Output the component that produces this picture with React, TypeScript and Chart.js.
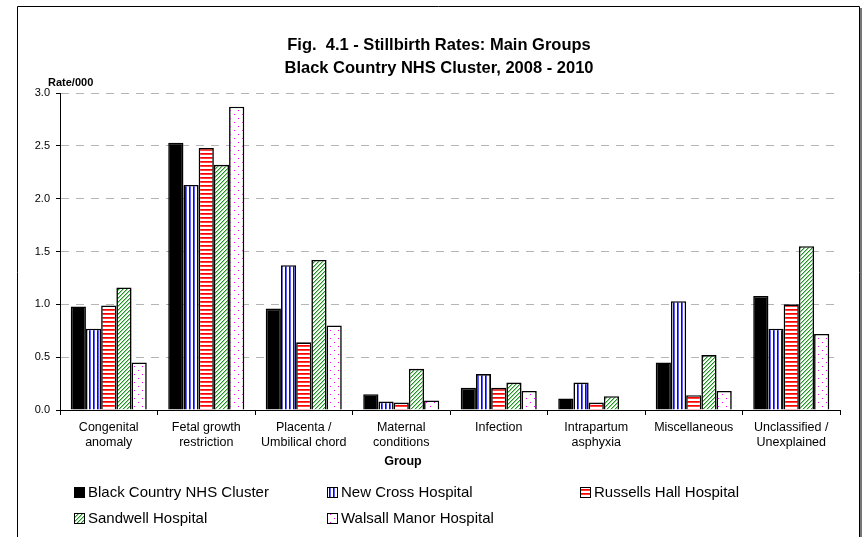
import React, { useEffect, useRef } from 'react';
import { Chart, registerables } from 'chart.js';

Chart.register(...registerables);

const categories: string[][] = [
  ['Congenital', 'anomaly'],
  ['Fetal growth', 'restriction'],
  ['Placenta /', 'Umbilical chord'],
  ['Maternal', 'conditions'],
  ['Infection'],
  ['Intrapartum', 'asphyxia'],
  ['Miscellaneous'],
  ['Unclassified /', 'Unexplained'],
];

const seriesNames = [
  'Black Country NHS Cluster',
  'New Cross Hospital',
  'Russells Hall Hospital',
  'Sandwell Hospital',
  'Walsall Manor Hospital',
];

const blackCountry = [0.98, 2.53, 0.96, 0.15, 0.21, 0.11, 0.45, 1.08];
const newCross = [0.77, 2.13, 1.37, 0.08, 0.34, 0.26, 1.03, 0.77];
const russellsHall = [0.99, 2.48, 0.64, 0.07, 0.21, 0.07, 0.14, 1.0];
const sandwell = [1.16, 2.32, 1.42, 0.39, 0.26, 0.13, 0.52, 1.55];
const walsall = [0.45, 2.87, 0.8, 0.09, 0.18, 0.0, 0.18, 0.72];

const yMin = 0;
const yMax = 3;
const yStep = 0.5;

const titleLines = ['Fig.  4.1 - Stillbirth Rates: Main Groups', 'Black Country NHS Cluster, 2008 - 2010'];
const yAxisTitle = 'Rate/000';
const xAxisTitle = 'Group';

const FONT = '"Liberation Sans", Arial, Helvetica, sans-serif';

function makeTile(w: number, h: number, draw: (c: CanvasRenderingContext2D) => void) {
  const cv = document.createElement('canvas');
  cv.width = w;
  cv.height = h;
  const c = cv.getContext('2d')!;
  c.fillStyle = '#ffffff';
  c.fillRect(0, 0, w, h);
  draw(c);
  return c.createPattern(cv, 'repeat')!;
}

function makeFills(): (string | CanvasPattern)[] {
  const blue = makeTile(4, 4, (c) => {
    c.fillStyle = '#0000ff';
    c.fillRect(1, 0, 1, 4);
    c.fillStyle = '#5a5aff';
    c.fillRect(2, 0, 1, 4);
  });
  const red = makeTile(4, 4, (c) => {
    c.fillStyle = '#ff0000';
    c.fillRect(0, 1, 4, 1);
    c.fillStyle = '#ff4040';
    c.fillRect(0, 2, 4, 1);
  });
  const green = makeTile(4, 4, (c) => {
    c.fillStyle = '#98d898';
    for (let i = 0; i < 4; i++) c.fillRect((4 - i) % 4, i, 1, 1);
    c.fillStyle = '#209020';
    for (let i = 0; i < 4; i++) c.fillRect(3 - i, i, 1, 1);
  });
  const dots = makeTile(8, 8, (c) => {
    c.fillStyle = '#ff00ff';
    c.fillRect(2, 2, 1, 1);
    c.fillRect(6, 6, 1, 1);
  });
  return ['#000000', blue, red, green, dots];
}

export default function App() {
  const ref = useRef<HTMLCanvasElement | null>(null);

  useEffect(() => {
    if (!ref.current) return;
    const fills = makeFills();
    const seriesData = [blackCountry, newCross, russellsHall, sandwell, walsall];

    const decor = {
      id: 'decor',
      afterDraw(chart: any) {
        const ctx: CanvasRenderingContext2D = chart.ctx;
        ctx.save();
        // frame
        ctx.strokeStyle = '#000';
        ctx.lineWidth = 1;
        ctx.beginPath();
        ctx.moveTo(17.5, 600);
        ctx.lineTo(17.5, 6.5);
        ctx.lineTo(859.5, 6.5);
        ctx.lineTo(859.5, 600);
        ctx.stroke();
        ctx.strokeStyle = '#777';
        ctx.lineWidth = 2;
        ctx.beginPath();
        ctx.moveTo(861, 8);
        ctx.lineTo(861, 600);
        ctx.stroke();

        // title
        ctx.fillStyle = '#000';
        ctx.textAlign = 'center';
        ctx.textBaseline = 'middle';
        ctx.font = `bold 16.5px ${FONT}`;
        ctx.fillText(titleLines[0], 439, 45);
        ctx.fillText(titleLines[1], 439, 68);

        // y title
        ctx.font = `bold 11px ${FONT}`;
        ctx.textAlign = 'left';
        ctx.fillText(yAxisTitle, 48, 83);

        // x title
        ctx.font = `bold 12.5px ${FONT}`;
        ctx.textAlign = 'center';
        ctx.fillText(xAxisTitle, 403, 462);

        // legend
        const cols = [74, 327, 580];
        const rows = [492, 518];
        ctx.font = `15px ${FONT}`;
        ctx.textAlign = 'left';
        seriesNames.forEach((name, i) => {
          const x = cols[i % 3];
          const y = rows[Math.floor(i / 3)];
          ctx.fillStyle = fills[i] as any;
          ctx.fillRect(x, y - 5, 11, 11);
          ctx.strokeStyle = '#000';
          ctx.lineWidth = 1;
          ctx.strokeRect(x + 0.5, y - 4.5, 10, 10);
          ctx.fillStyle = '#000';
          ctx.fillText(name, x + 14, y + 0.5);
        });
        ctx.restore();
      },
    };

    const chart = new Chart(ref.current, {
      type: 'bar',
      data: {
        labels: categories,
        datasets: seriesNames.map((name, i) => ({
          label: name,
          data: seriesData[i],
          backgroundColor: fills[i] as any,
          borderColor: '#000000',
          borderWidth: 1.6,
          categoryPercentage: 0.78,
          barPercentage: 1.0,
        })),
      },
      options: {
        responsive: false,
        animation: false,
        layout: { padding: { left: 0, right: 24, top: 93, bottom: 57 } },
        plugins: {
          legend: { display: false },
          title: { display: false },
          tooltip: { enabled: false },
        },
        scales: {
          x: {
            grid: {
              display: true,
              drawOnChartArea: false,
              drawTicks: true,
              tickLength: 5,
              color: '#000',
              tickColor: '#000',
              offset: true,
            },
            border: { display: true, color: '#000', width: 1 },
            ticks: {
              font: { family: FONT, size: 12.5, lineHeight: 1.2 },
              color: '#000',
              padding: 5,
              maxRotation: 0,
              autoSkip: false,
            },
            afterFit: (s: any) => {
              s.height = 70;
            },
          },
          y: {
            min: yMin,
            max: yMax,
            ticks: {
              stepSize: yStep,
              callback: (v: any) => Number(v).toFixed(1),
              font: { family: FONT, size: 11 },
              color: '#000',
              padding: 6,
            },
            grid: {
              color: (c: any) => (c.tick && c.tick.value === 0 ? 'rgba(0,0,0,0)' : '#b4b4b4'),
              tickColor: '#000',
              tickLength: 4,
              lineWidth: 1,
            },
            border: { display: true, color: '#000', width: 1, dash: [8, 7] },
            afterFit: (s: any) => {
              s.width = 60;
            },
          },
        },
      },
      plugins: [decor],
    });
    return () => chart.destroy();
  }, []);

  return (
    <div style={{ position: 'fixed', left: 0, top: 0, width: 864, height: 537, background: '#fff' }}>
      <canvas ref={ref} width={864} height={537} style={{ display: 'block' }} />
    </div>
  );
}
